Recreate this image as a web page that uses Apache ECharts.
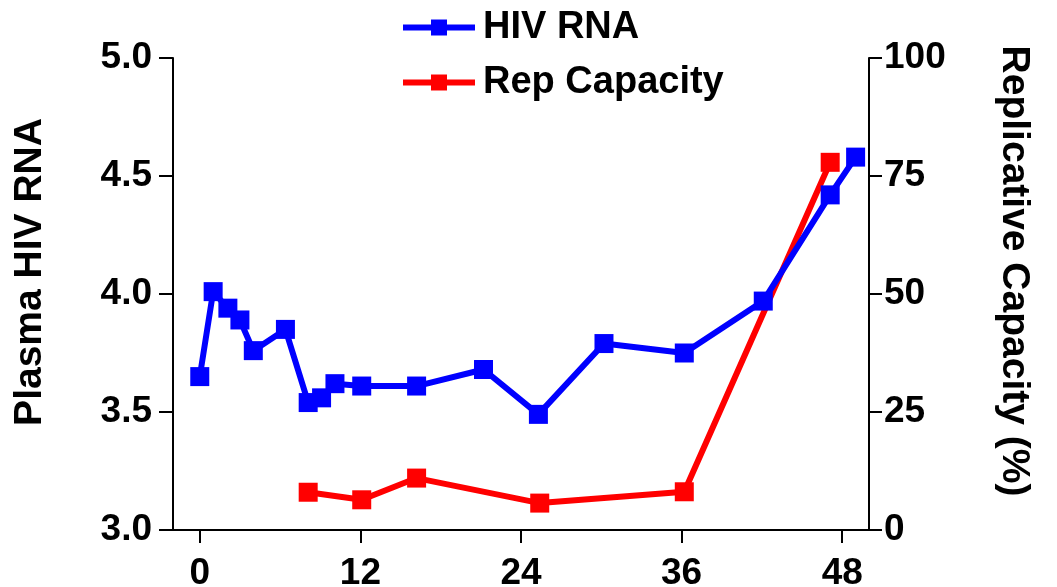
<!DOCTYPE html>
<html>
<head>
<meta charset="utf-8">
<script src="https://cdn.jsdelivr.net/npm/echarts@6/dist/echarts.min.js"></script>
<style>
  html, body { margin: 0; padding: 0; background: #fff; }
  #chart { width: 1057px; height: 587px; }
</style>
</head>
<body>
<div id="chart"></div>
<script>
// Weeks of follow-up and plasma HIV RNA (log10 copies/mL)
const rnaWeeks = [0, 1.0, 2.1, 3.0, 4.0, 6.4, 8.1, 9.1, 10.1, 12.1, 16.2, 21.2, 25.3, 30.2, 36.2, 42.1, 47.1, 49.0];
const rnaValues = [3.65, 4.01, 3.94, 3.89, 3.76, 3.85, 3.54, 3.56, 3.62, 3.61, 3.61, 3.68, 3.49, 3.79, 3.75, 3.97, 4.42, 4.58];

// Weeks and replicative capacity (%)
const repWeeks = [8.1, 12.1, 16.2, 25.4, 36.2, 47.1];
const repValues = [8.0, 6.4, 11.0, 5.7, 8.1, 77.9];

// Axis tick labels
const xTicks = [0, 12, 24, 36, 48];
const leftTicks = [3.0, 3.5, 4.0, 4.5, 5.0];
const rightTicks = [0, 25, 50, 75, 100];

const seriesNames = ['HIV RNA', 'Rep Capacity'];

const FONT = "'Liberation Sans', Arial, sans-serif";
const LINE = { color: '#000', width: 2 };
const tickFont = { fontFamily: FONT, fontWeight: 'bold', fontSize: 37, color: '#000' };
const nameFont = { fontFamily: FONT, fontWeight: 'bold', fontSize: 39, color: '#000' };

const chart = echarts.init(document.getElementById('chart'), null, { renderer: 'canvas' });

const zip = (xs, ys) => xs.map((x, i) => [x, ys[i]]);

chart.setOption({
  animation: false,
  backgroundColor: '#fff',
  textStyle: { fontFamily: FONT },
  grid: { left: 173, right: 188, top: 58, bottom: 57, containLabel: false, outerBoundsMode: 'none' },
  legend: {
    data: seriesNames,
    orient: 'vertical',
    left: 395,
    top: 2,
    itemWidth: 72,
    itemHeight: 20,
    itemGap: 14,
    lineStyle: { width: 6 },
    textStyle: {
      fontFamily: FONT, fontWeight: 'bold', fontSize: 38, color: '#000',
      lineHeight: 41, padding: [0, 0, 0, 3]
    }
  },
  xAxis: {
    type: 'value',
    min: -2,
    max: 50,
    axisLine: { show: true, onZero: false, lineStyle: LINE },
    axisTick: { show: true, length: 13, lineStyle: LINE, customValues: xTicks },
    axisLabel: Object.assign({ customValues: xTicks, margin: 25 }, tickFont),
    splitLine: { show: false }
  },
  yAxis: [
    {
      type: 'value',
      position: 'left',
      min: 3, max: 5,
      name: 'Plasma HIV RNA',
      nameLocation: 'middle',
      nameRotate: 90,
      nameGap: 123,
      nameTextStyle: Object.assign({ padding: [0, 0, 0, 44] }, nameFont),
      axisLine: { show: true, onZero: false, lineStyle: LINE },
      axisTick: { show: true, length: 14, lineStyle: LINE, customValues: leftTicks },
      axisLabel: Object.assign({ customValues: leftTicks, margin: 21, formatter: v => v.toFixed(1) }, tickFont),
      splitLine: { show: false }
    },
    {
      type: 'value',
      position: 'right',
      min: 0, max: 100,
      name: 'Replicative Capacity (%)',
      nameLocation: 'middle',
      nameRotate: -90,
      nameGap: 125,
      nameTextStyle: Object.assign({ padding: [0, 46, 0, 0] }, nameFont),
      axisLine: { show: true, onZero: false, lineStyle: LINE },
      axisTick: { show: true, length: 13, lineStyle: LINE, customValues: rightTicks },
      axisLabel: Object.assign({ customValues: rightTicks, margin: 15 }, tickFont),
      splitLine: { show: false }
    }
  ],
  series: [
    {
      name: seriesNames[0],
      type: 'line',
      yAxisIndex: 0,
      z: 3,
      data: zip(rnaWeeks, rnaValues),
      symbol: 'rect',
      symbolSize: 19,
      lineStyle: { color: '#0000ff', width: 6 },
      itemStyle: { color: '#0000ff' }
    },
    {
      name: seriesNames[1],
      type: 'line',
      yAxisIndex: 1,
      z: 2,
      data: zip(repWeeks, repValues),
      symbol: 'rect',
      symbolSize: 19,
      lineStyle: { color: '#ff0000', width: 6 },
      itemStyle: { color: '#ff0000' }
    }
  ]
});
</script>
</body>
</html>
